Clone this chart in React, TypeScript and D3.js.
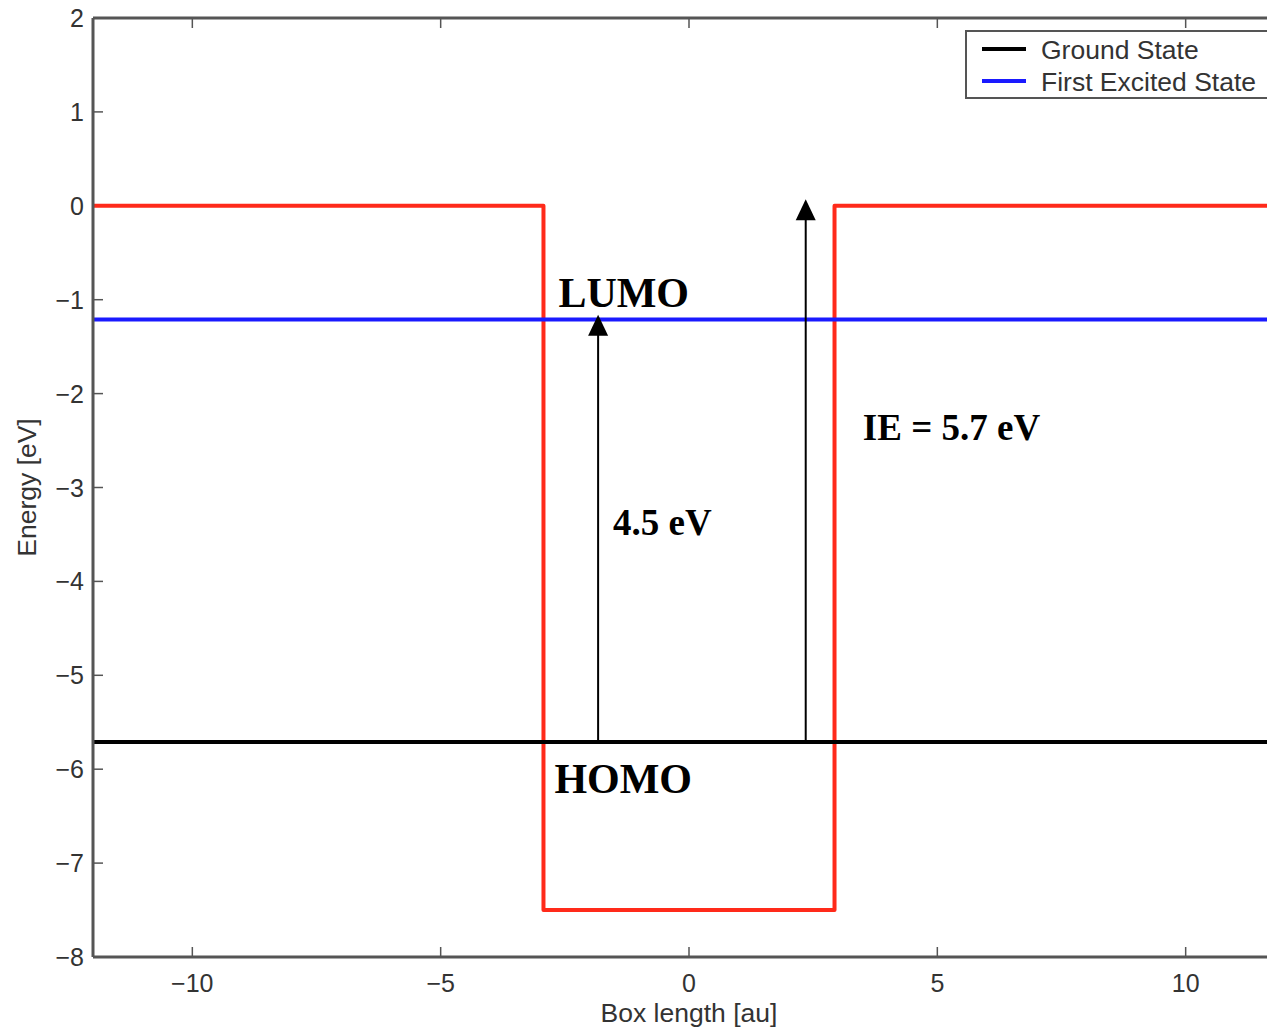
import React, { useEffect, useRef } from 'react';
import * as d3 from 'd3';

// data
const xTicks = [-10, -5, 0, 5, 10];
const yTicks = [2, 1, 0, -1, -2, -3, -4, -5, -6, -7, -8];
const wellX = [-12, -2.93, -2.93, 2.93, 2.93, 12];
const wellY = [0, 0, -7.5, -7.5, 0, 0];
const groundEnergy = -5.71;
const excitedEnergy = -1.21;
const arrowX = [-1.83, 2.35];
const arrowTop = [-1.16, 0.07];
const legendItems = ['Ground State', 'First Excited State'];
const legendColors = ['#000000', '#1a1aff'];

const App = () => {
  const ref = useRef<SVGSVGElement | null>(null);

  useEffect(() => {
    document.body.style.margin = '0';
    if (!ref.current) return;
    const width = 1267;
    const height = 1029;
    const margin = { left: 93, top: 18, right: -18, bottom: 72 };

    const svg = d3.select(ref.current);
    svg.selectAll('*').remove();
    svg.attr('width', width).attr('height', height);

    const x = d3.scaleLinear().domain([-12, 12]).range([margin.left, width - margin.right]);
    const y = d3.scaleLinear().domain([-8, 2]).range([height - margin.bottom, margin.top]);

    const axisColor = '#555';
    const textColor = '#333';
    const sans = '"Liberation Sans", Arial, sans-serif';
    const serif = '"Liberation Serif", "Times New Roman", serif';
    const fmt = (t: number) => (t < 0 ? '\u2212' + Math.abs(t) : String(t));

    // ticks (inward, MATLAB style)
    const tickLen = 10;
    xTicks.forEach(t => {
      svg.append('line').attr('x1', x(t)).attr('x2', x(t))
        .attr('y1', y(-8)).attr('y2', y(-8) - tickLen)
        .attr('stroke', axisColor).attr('stroke-width', 1.5);
      svg.append('line').attr('x1', x(t)).attr('x2', x(t))
        .attr('y1', y(2)).attr('y2', y(2) + tickLen)
        .attr('stroke', axisColor).attr('stroke-width', 1.5);
      svg.append('text').attr('x', x(t)).attr('y', 992)
        .attr('text-anchor', 'middle').attr('font-family', sans)
        .attr('font-size', 25).attr('fill', textColor)
        .text(fmt(t));
    });
    yTicks.forEach(t => {
      svg.append('line').attr('x1', x(-12)).attr('x2', x(-12) + tickLen)
        .attr('y1', y(t)).attr('y2', y(t))
        .attr('stroke', axisColor).attr('stroke-width', 1.5);
      svg.append('text').attr('x', x(-12) - 9).attr('y', y(t) + 9)
        .attr('text-anchor', 'end').attr('font-family', sans)
        .attr('font-size', 25).attr('fill', textColor)
        .text(fmt(t));
    });

    // red potential well
    const line = d3.line<number>()
      .x((_, i) => x(wellX[i]))
      .y(d => y(d));
    svg.append('path').datum(wellY).attr('d', line)
      .attr('fill', 'none').attr('stroke', '#ff2a1a').attr('stroke-width', 4)
      .attr('stroke-linejoin', 'round');

    // energy levels
    svg.append('line').attr('x1', x(-12)).attr('x2', x(12))
      .attr('y1', y(excitedEnergy)).attr('y2', y(excitedEnergy))
      .attr('stroke', legendColors[1]).attr('stroke-width', 4);
    svg.append('line').attr('x1', x(-12)).attr('x2', x(12))
      .attr('y1', y(groundEnergy)).attr('y2', y(groundEnergy))
      .attr('stroke', legendColors[0]).attr('stroke-width', 4);

    // arrows
    arrowX.forEach((ax, i) => {
      const tipY = y(arrowTop[i]);
      svg.append('line').attr('x1', x(ax)).attr('x2', x(ax))
        .attr('y1', y(groundEnergy)).attr('y2', tipY + 18)
        .attr('stroke', '#000').attr('stroke-width', 2);
      svg.append('path')
        .attr('d', `M${x(ax)},${tipY} L${x(ax) - 10},${tipY + 21} L${x(ax) + 10},${tipY + 21} Z`)
        .attr('fill', '#000');
    });

    // annotations
    const notes = [
      { t: 'LUMO', x: -2.63, y: -1.08, s: 42 },
      { t: 'HOMO', x: -2.71, y: -6.25, s: 42 },
      { t: '4.5 eV', x: -1.53, y: -3.51, s: 37 },
      { t: 'IE = 5.7 eV', x: 3.5, y: -2.49, s: 37 },
    ];
    notes.forEach(n => {
      svg.append('text').attr('x', x(n.x)).attr('y', y(n.y))
        .attr('font-family', serif).attr('font-weight', 'bold')
        .attr('font-size', n.s).attr('fill', '#000').text(n.t);
    });

    // box frame
    svg.append('line').attr('x1', x(-12)).attr('x2', x(-12))
      .attr('y1', y(2)).attr('y2', y(-8)).attr('stroke', axisColor).attr('stroke-width', 3);
    svg.append('line').attr('x1', x(-12)).attr('x2', x(12))
      .attr('y1', y(-8)).attr('y2', y(-8)).attr('stroke', axisColor).attr('stroke-width', 3);
    svg.append('line').attr('x1', x(-12)).attr('x2', x(12))
      .attr('y1', y(2)).attr('y2', y(2)).attr('stroke', axisColor).attr('stroke-width', 3);

    // legend
    const lg = svg.append('g').attr('transform', 'translate(966,31)');
    lg.append('rect').attr('width', 330).attr('height', 67)
      .attr('fill', '#fff').attr('stroke', axisColor).attr('stroke-width', 2);
    legendItems.forEach((name, i) => {
      const ly = 18 + i * 32;
      lg.append('line').attr('x1', 16).attr('x2', 60).attr('y1', ly).attr('y2', ly)
        .attr('stroke', legendColors[i]).attr('stroke-width', 4);
      lg.append('text').attr('x', 75).attr('y', ly + 10)
        .attr('font-family', sans).attr('font-size', 26.5).attr('fill', textColor)
        .text(name);
    });

    // axis labels
    svg.append('text').attr('x', x(0)).attr('y', 1022)
      .attr('text-anchor', 'middle').attr('font-family', sans)
      .attr('font-size', 26.5).attr('fill', textColor).text('Box length [au]');
    svg.append('text')
      .attr('transform', `translate(36,${y(-3)}) rotate(-90)`)
      .attr('text-anchor', 'middle').attr('font-family', sans)
      .attr('font-size', 26.5).attr('fill', textColor).text('Energy [eV]');
  }, []);

  return <svg ref={ref} style={{ display: 'block' }} />;
};

export default App;
